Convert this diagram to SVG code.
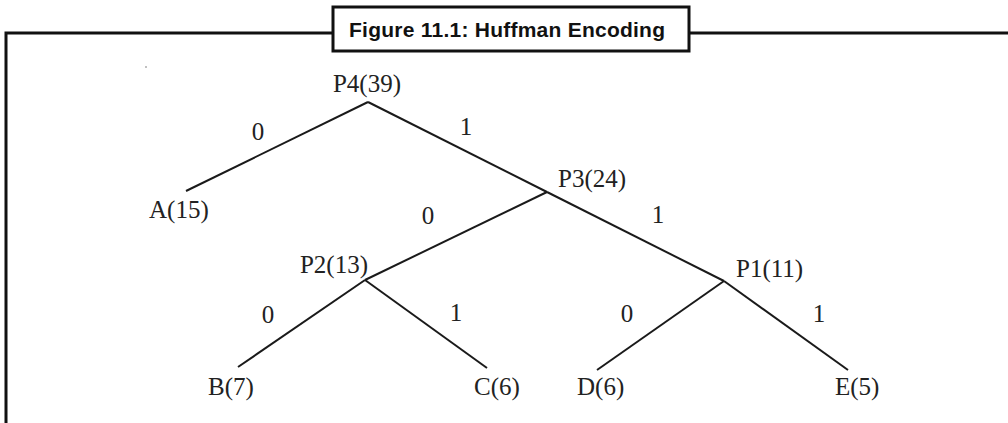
<svg xmlns="http://www.w3.org/2000/svg" width="1008" height="423" viewBox="0 0 1008 423">
<style>
.frame{fill:none;stroke:#111;stroke-width:3}
.edge{stroke:#1a1a1a;stroke-width:2;stroke-linecap:butt;fill:none}
.lbl{font-family:"Liberation Serif","DejaVu Serif",serif;font-size:25px;fill:#222}
.title{font-family:"Liberation Sans","DejaVu Sans",sans-serif;font-size:21px;font-weight:bold;fill:#111}
</style>
<rect width="1008" height="423" fill="#fff"/>
<g id="frame">
<polyline class="frame" points="6,423 6,33 333,33"/>
<line class="frame" x1="689" y1="33" x2="1008" y2="33"/>
<rect class="frame" x="333" y="7" width="356" height="44" fill="#fff"/>
<text class="title" x="349" y="37" textLength="316" lengthAdjust="spacing">Figure 11.1: Huffman Encoding</text>
</g>
<circle cx="146" cy="67" r="0.7" fill="#555"/>
<g id="connectors">
<line class="edge" x1="368" y1="102" x2="186" y2="191"/>
<line class="edge" x1="368" y1="102" x2="547" y2="192"/>
<line class="edge" x1="547" y1="192" x2="365" y2="280"/>
<line class="edge" x1="547" y1="192" x2="724" y2="281"/>
<line class="edge" x1="365" y1="280" x2="238" y2="367"/>
<line class="edge" x1="365" y1="280" x2="487" y2="368"/>
<line class="edge" x1="724" y1="281" x2="597" y2="370"/>
<line class="edge" x1="724" y1="281" x2="848" y2="370"/>
<text class="lbl" x="258" y="140" text-anchor="middle">0</text>
<text class="lbl" x="466" y="135" text-anchor="middle">1</text>
<text class="lbl" x="428" y="224" text-anchor="middle">0</text>
<text class="lbl" x="658" y="223" text-anchor="middle">1</text>
<text class="lbl" x="268" y="323" text-anchor="middle">0</text>
<text class="lbl" x="456" y="321" text-anchor="middle">1</text>
<text class="lbl" x="627" y="322" text-anchor="middle">0</text>
<text class="lbl" x="819" y="322" text-anchor="middle">1</text>
</g>
<g id="P4"><text class="lbl" x="367" y="92" text-anchor="middle">P4(39)</text></g>
<g id="A"><text class="lbl" x="149" y="218">A(15)</text></g>
<g id="P3"><text class="lbl" x="558" y="187">P3(24)</text></g>
<g id="P2"><text class="lbl" x="368" y="273" text-anchor="end">P2(13)</text></g>
<g id="P1"><text class="lbl" x="736" y="277">P1(11)</text></g>
<g id="B"><text class="lbl" x="208" y="395">B(7)</text></g>
<g id="C"><text class="lbl" x="474" y="395">C(6)</text></g>
<g id="D"><text class="lbl" x="577" y="395">D(6)</text></g>
<g id="E"><text class="lbl" x="835" y="395">E(5)</text></g>
</svg>
